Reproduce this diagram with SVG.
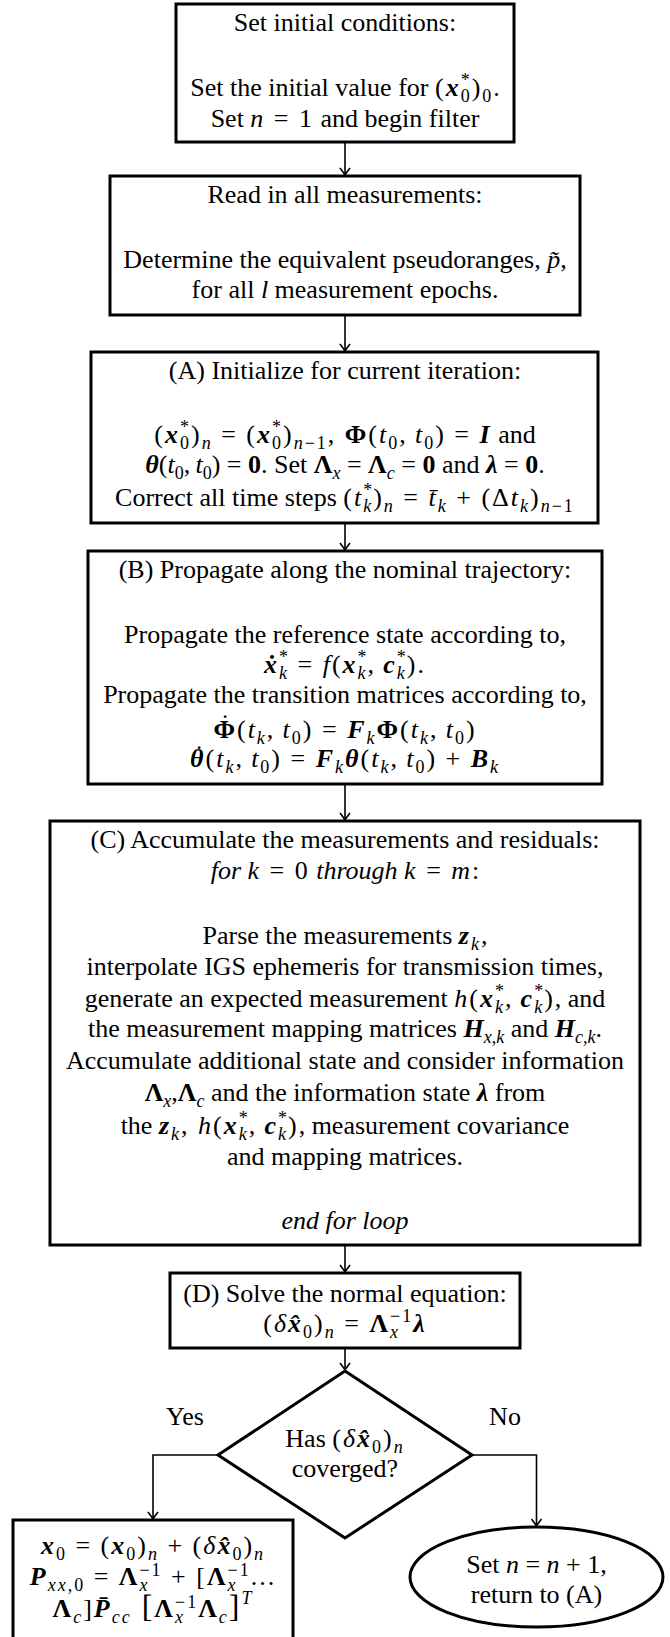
<svg xmlns="http://www.w3.org/2000/svg" width="670" height="1637" viewBox="0 0 670 1637">
<style>
.box{fill:#fff;stroke:#000;stroke-width:3}
.conn{fill:none;stroke:#000;stroke-width:1.6}
text{font-family:"Liberation Serif","Times New Roman",serif;font-size:26px;fill:#000;text-anchor:middle}
.i{font-style:italic}
.b{font-weight:bold}
.bi{font-weight:bold;font-style:italic}
.s{font-size:18px}
.si{font-size:18px;font-style:italic}
.big{font-size:32px}
.m{letter-spacing:2px;word-spacing:0px}
.dot{font-weight:normal;font-style:normal}
</style>
<defs>
<marker id="arr" viewBox="-9 -6 10 12" markerWidth="10" markerHeight="12" refX="0" refY="0" orient="auto" markerUnits="userSpaceOnUse">
<path d="M-7,-5 Q-2,-1.2 0,0 Q-2,1.2 -7,5" fill="none" stroke="#000" stroke-width="1.6"/>
</marker>
</defs>
<rect width="670" height="1637" fill="#fff"/>

<g id="connectors">
<path class="conn" d="M345,142 V175" marker-end="url(#arr)"/>
<path class="conn" d="M345,315 V351" marker-end="url(#arr)"/>
<path class="conn" d="M345,523 V550" marker-end="url(#arr)"/>
<path class="conn" d="M345,784 V820" marker-end="url(#arr)"/>
<path class="conn" d="M345,1245 V1272" marker-end="url(#arr)"/>
<path class="conn" d="M345,1348 V1370" marker-end="url(#arr)"/>
<path class="conn" d="M218,1455 H153 V1519" marker-end="url(#arr)"/>
<path class="conn" d="M472,1455 H536.5 V1526" marker-end="url(#arr)"/>
<text x="185" y="1425">Yes</text>
<text x="505" y="1425">No</text>
</g>

<g id="n1">
<rect class="box" x="176" y="4" width="338" height="138"/>
<text x="345" y="31">Set initial conditions:</text>
<text x="345" y="96">Set the initial value for <tspan class="m">(<tspan class="bi">x</tspan><tspan class="s" dy="-10">*</tspan><tspan class="s" dx="-11" dy="16">0</tspan><tspan dy="-6">)</tspan><tspan class="s" dy="6">0</tspan></tspan><tspan dy="-6">.</tspan></text>
<text x="345" y="127">Set <tspan class="m"><tspan class="i">n</tspan> = 1</tspan> and begin filter</text>
</g>

<g id="n2">
<rect class="box" x="110" y="176" width="470" height="139"/>
<text x="345" y="203">Read in all measurements:</text>
<text x="345" y="268">Determine the equivalent pseudoranges, <tspan class="i">p&#x303;</tspan>,</text>
<text x="345" y="298">for all <tspan class="i">l</tspan> measurement epochs.</text>
</g>

<g id="nA">
<rect class="box" x="91" y="352" width="507" height="171"/>
<text x="345" y="379">(A) Initialize for current iteration:</text>
<text x="345" y="443"><tspan class="m">(<tspan class="bi">x</tspan><tspan class="s" dy="-10">*</tspan><tspan class="s" dx="-11" dy="16">0</tspan><tspan dy="-6">)</tspan><tspan class="si" dy="6">n</tspan><tspan dy="-6"> = (</tspan><tspan class="bi">x</tspan><tspan class="s" dy="-10">*</tspan><tspan class="s" dx="-11" dy="16">0</tspan><tspan dy="-6">)</tspan><tspan class="si" dy="6">n</tspan><tspan class="s">−1</tspan><tspan dy="-6">, </tspan><tspan class="b">Φ</tspan>(<tspan class="i">t</tspan><tspan class="s" dy="6">0</tspan><tspan dy="-6">,&#x2009;</tspan><tspan class="i">t</tspan><tspan class="s" dy="6">0</tspan><tspan dy="-6">) = </tspan><tspan class="bi">I</tspan></tspan> and</text>
<text x="345" y="473"><tspan class="bi">θ</tspan>(<tspan class="i">t</tspan><tspan class="s" dy="6">0</tspan><tspan dy="-6">,&#x2009;</tspan><tspan class="i">t</tspan><tspan class="s" dy="6">0</tspan><tspan dy="-6">) = </tspan><tspan class="b">0</tspan>. Set <tspan class="b">Λ</tspan><tspan class="si" dy="6">x</tspan><tspan dy="-6"> = </tspan><tspan class="b">Λ</tspan><tspan class="si" dy="6">c</tspan><tspan dy="-6"> = </tspan><tspan class="b">0</tspan> and <tspan class="bi">λ</tspan> = <tspan class="b">0</tspan>.</text>
<text x="345" y="506">Correct all time steps <tspan class="m">(<tspan class="i">t</tspan><tspan class="s" dy="-10">*</tspan><tspan class="si" dx="-11" dy="16">k</tspan><tspan dy="-6">)</tspan><tspan class="si" dy="6">n</tspan><tspan dy="-6"> = </tspan><tspan class="i">t&#x304;</tspan><tspan class="si" dy="6">k</tspan><tspan dy="-6"> + (Δ</tspan><tspan class="i">t</tspan><tspan class="si" dy="6">k</tspan><tspan dy="-6">)</tspan><tspan class="si" dy="6">n</tspan><tspan class="s">−1</tspan></tspan></text>
</g>

<g id="nB">
<rect class="box" x="88" y="551" width="514" height="233"/>
<text x="345" y="578">(B) Propagate along the nominal trajectory:</text>
<text x="345" y="643">Propagate the reference state according to,</text>
<text x="345" y="673" class="m"><tspan class="bi">x&#x307;</tspan><tspan class="s" dy="-10">*</tspan><tspan class="si" dx="-11" dy="16">k</tspan><tspan dy="-6"> = </tspan><tspan class="i">f</tspan>(<tspan class="bi">x</tspan><tspan class="s" dy="-10">*</tspan><tspan class="si" dx="-11" dy="16">k</tspan><tspan dy="-6">,&#x2009;</tspan><tspan class="bi">c</tspan><tspan class="s" dy="-10">*</tspan><tspan class="si" dx="-11" dy="16">k</tspan><tspan dy="-6">).</tspan></text>
<text x="345" y="703">Propagate the transition matrices according to,</text>
<text x="345" y="738" class="m"><tspan class="b">Φ</tspan><tspan class="dot" dx="-16.2" dy="-6">˙</tspan><tspan dx="5.5" dy="6">(</tspan><tspan class="i">t</tspan><tspan class="si" dy="6">k</tspan><tspan dy="-6">,&#x2009;</tspan><tspan class="i">t</tspan><tspan class="s" dy="6">0</tspan><tspan dy="-6">) = </tspan><tspan class="bi">F</tspan><tspan class="si" dy="6">k</tspan><tspan class="b" dy="-6">Φ</tspan>(<tspan class="i">t</tspan><tspan class="si" dy="6">k</tspan><tspan dy="-6">,&#x2009;</tspan><tspan class="i">t</tspan><tspan class="s" dy="6">0</tspan><tspan dy="-6">)</tspan></text>
<text x="345" y="767" class="m"><tspan class="bi">θ</tspan><tspan class="dot" dx="-10.8" dy="-4">˙</tspan><tspan dx="0.2" dy="4">(</tspan><tspan class="i">t</tspan><tspan class="si" dy="6">k</tspan><tspan dy="-6">,&#x2009;</tspan><tspan class="i">t</tspan><tspan class="s" dy="6">0</tspan><tspan dy="-6">) = </tspan><tspan class="bi">F</tspan><tspan class="si" dy="6">k</tspan><tspan class="bi" dy="-6">θ</tspan>(<tspan class="i">t</tspan><tspan class="si" dy="6">k</tspan><tspan dy="-6">,&#x2009;</tspan><tspan class="i">t</tspan><tspan class="s" dy="6">0</tspan><tspan dy="-6">) + </tspan><tspan class="bi">B</tspan><tspan class="si" dy="6">k</tspan></text>
</g>

<g id="nC">
<rect class="box" x="50" y="821" width="590" height="424"/>
<text x="345" y="848">(C) Accumulate the measurements and residuals:</text>
<text x="345" y="879"><tspan class="i">for </tspan><tspan class="m"><tspan class="i">k</tspan> = 0</tspan> <tspan class="i">through </tspan><tspan class="m"><tspan class="i">k</tspan> = <tspan class="i">m</tspan></tspan>:</text>
<text x="345" y="944">Parse the measurements <tspan class="m"><tspan class="bi">z</tspan><tspan class="si" dy="6">k</tspan></tspan><tspan dy="-6">,</tspan></text>
<text x="345" y="975">interpolate IGS ephemeris for transmission times,</text>
<text x="345" y="1007">generate an expected measurement <tspan class="m"><tspan class="i">h</tspan>(<tspan class="bi">x</tspan><tspan class="s" dy="-10">*</tspan><tspan class="si" dx="-11" dy="16">k</tspan><tspan dy="-6">,&#x2009;</tspan><tspan class="bi">c</tspan><tspan class="s" dy="-10">*</tspan><tspan class="si" dx="-11" dy="16">k</tspan><tspan dy="-6">)</tspan></tspan>, and</text>
<text x="345" y="1037">the measurement mapping matrices <tspan class="bi">H</tspan><tspan class="si" dy="6">x,k</tspan><tspan dy="-6"> and </tspan><tspan class="bi">H</tspan><tspan class="si" dy="6">c,k</tspan><tspan dy="-6">.</tspan></text>
<text x="345" y="1069">Accumulate additional state and consider information</text>
<text x="345" y="1101"><tspan class="b">Λ</tspan><tspan class="si" dy="6">x</tspan><tspan dy="-6">,</tspan><tspan class="b">Λ</tspan><tspan class="si" dy="6">c</tspan><tspan dy="-6"> and the information state </tspan><tspan class="bi">λ</tspan> from</text>
<text x="345" y="1134">the <tspan class="m"><tspan class="bi">z</tspan><tspan class="si" dy="6">k</tspan><tspan dy="-6">, </tspan><tspan class="i">h</tspan>(<tspan class="bi">x</tspan><tspan class="s" dy="-10">*</tspan><tspan class="si" dx="-11" dy="16">k</tspan><tspan dy="-6">,&#x2009;</tspan><tspan class="bi">c</tspan><tspan class="s" dy="-10">*</tspan><tspan class="si" dx="-11" dy="16">k</tspan><tspan dy="-6">)</tspan></tspan>, measurement covariance</text>
<text x="345" y="1165">and mapping matrices.</text>
<text x="345" y="1229" class="i">end for loop</text>
</g>

<g id="nD">
<rect class="box" x="170" y="1273" width="350" height="75"/>
<text x="345" y="1302">(D) Solve the normal equation:</text>
<text x="345" y="1332" class="m">(<tspan class="i">δ</tspan><tspan class="bi">x&#x302;</tspan><tspan class="s" dy="6">0</tspan><tspan dy="-6">)</tspan><tspan class="si" dy="6">n</tspan><tspan dy="-6"> = </tspan><tspan class="b">Λ</tspan><tspan class="s" dy="-10">−1</tspan><tspan class="si" dx="-23.2" dy="16">x</tspan><tspan class="bi" dx="13.2" dy="-6">λ</tspan></text>
</g>

<g id="nDec">
<polygon class="box" points="345,1371 472,1455 345,1538 218,1455"/>
<text x="345" y="1447">Has <tspan class="m">(<tspan class="i">δ</tspan><tspan class="bi">x&#x302;</tspan><tspan class="s" dy="6">0</tspan><tspan dy="-6">)</tspan><tspan class="si" dy="6">n</tspan></tspan></text>
<text x="345" y="1477">coverged?</text>
</g>

<g id="nYes">
<rect class="box" x="13" y="1520" width="280" height="130"/>
<text x="153" y="1554" class="m"><tspan class="bi">x</tspan><tspan class="s" dy="6">0</tspan><tspan dy="-6"> = (</tspan><tspan class="bi">x</tspan><tspan class="s" dy="6">0</tspan><tspan dy="-6">)</tspan><tspan class="si" dy="6">n</tspan><tspan dy="-6"> + (</tspan><tspan class="i">δ</tspan><tspan class="bi">x&#x302;</tspan><tspan class="s" dy="6">0</tspan><tspan dy="-6">)</tspan><tspan class="si" dy="6">n</tspan></text>
<text x="153" y="1585" class="m"><tspan class="bi">P</tspan><tspan class="si" dy="6">xx</tspan><tspan class="s">,0</tspan><tspan dy="-6"> = </tspan><tspan class="b">Λ</tspan><tspan class="s" dy="-9">−1</tspan><tspan class="si" dx="-23.2" dy="15">x</tspan><tspan dx="13.2" dy="-6"> + [</tspan><tspan class="b">Λ</tspan><tspan class="s" dy="-9">−1</tspan><tspan class="si" dx="-23.2" dy="15">x</tspan><tspan dx="13.2" dy="-6">...</tspan></text>
<text x="153" y="1617" class="m"><tspan class="b">Λ</tspan><tspan class="si" dy="6">c</tspan><tspan dy="-6">]</tspan><tspan class="bi">P&#x304;</tspan><tspan class="si" dy="6">cc</tspan><tspan class="big" dy="-6"> [</tspan><tspan class="b">Λ</tspan><tspan class="s" dy="-9">−1</tspan><tspan class="si" dx="-23.2" dy="15">x</tspan><tspan class="b" dx="13.2" dy="-6">Λ</tspan><tspan class="si" dy="6">c</tspan><tspan class="big" dy="-6">]</tspan><tspan class="si" dy="-13">T</tspan></text>
</g>

<g id="nNo">
<ellipse class="box" cx="536.5" cy="1577" rx="126.5" ry="50"/>
<text x="536.5" y="1573">Set <tspan class="i">n</tspan> = <tspan class="i">n</tspan> + 1,</text>
<text x="536.5" y="1603">return to (A)</text>
</g>
</svg>
